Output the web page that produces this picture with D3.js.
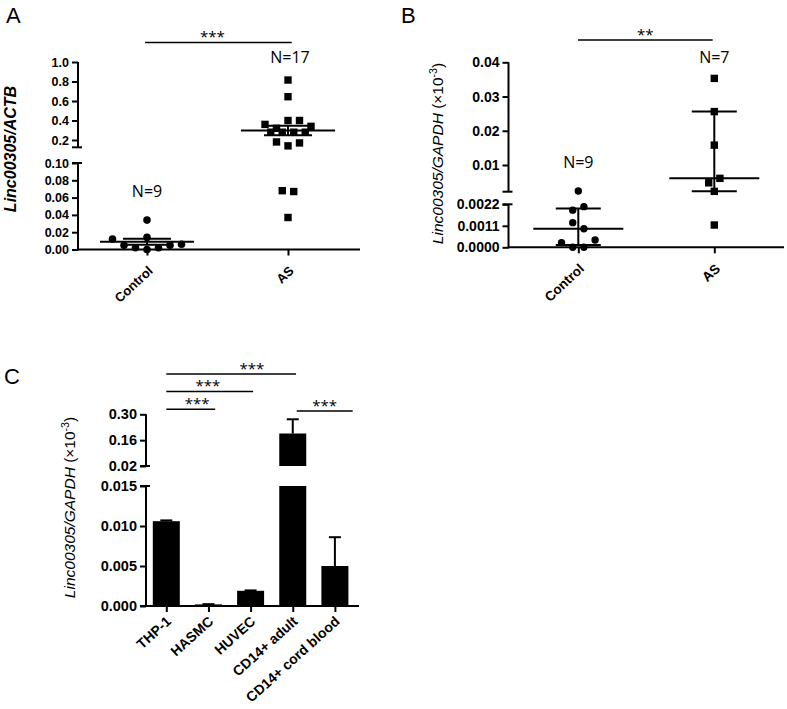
<!DOCTYPE html>
<html><head><meta charset="utf-8">
<script src="https://cdn.jsdelivr.net/npm/d3@7"></script>
<style>
body{margin:0;background:#fff;}
svg{display:block;}
</style></head><body>
<svg id="chart" width="787" height="709"></svg>
<script>
// ---------------- DATA ----------------
const groupsAB = ["Control", "AS"];
// Panel A: Linc00305/ACTB
const controlA = [0.012, 0.005, 0.002, 0.000, 0.002, 0.005, 0.006, 0.014, 0.034];
const asA = [0.815, 0.644, 0.36, 0.32, 0.40, 0.40, 0.34, 0.28, 0.28, 0.28, 0.28, 0.18, 0.14, 0.17, 0.068, 0.067, 0.037];
const ticksA_up = [0.2, 0.4, 0.6, 0.8, 1.0];
const ticksA_low = [0, 0.02, 0.04, 0.06, 0.08, 0.10];
const sigA = "***";
// Panel B: Linc00305/GAPDH (x10^-3)
const controlB = [0.0024, 0.0019, 0.00208, 0.00126, 0.00095, 0.00024, 0.0, 0.0, 0.00037];
const asB = [0.0353, 0.0256, 0.0158, 0.0048, 0.0061, 0.0023, 0.00114];
const ticksB_up = [0.01, 0.02, 0.03, 0.04];
const ticksB_low = [0, 0.0011, 0.0022];
const sigB = "**";
// Panel C: bars
const cellsC = ["THP-1", "HASMC", "HUVEC", "CD14+ adult", "CD14+ cord blood"];
const meanC = [0.0106, 0.0002, 0.0019, 0.196, 0.0050];
const errC = [0.0001, 0.00003, 0.00005, 0.077, 0.0036];
const ticksC_up = [0.02, 0.16, 0.30];
const ticksC_low = [0, 0.005, 0.010, 0.015];
const sigPairsC = [[0, 3], [0, 2], [0, 1], [3, 4]];
const sigLabelsC = ["***", "***", "***", "***"];

// ---------------- HELPERS ----------------
const svg = d3.select("#chart");
const TICKFONT = '"Liberation Sans", Arial, sans-serif';
const NOTEFONT = '"Open Sans", "Noto Sans", sans-serif';
const K = "#000";

function ln(g, x1, y1, x2, y2, w) {
  g.append("line").attr("x1", x1).attr("y1", y1).attr("x2", x2).attr("y2", y2)
    .attr("stroke", K).attr("stroke-width", w || 2);
}
function segAxis(g, scale, ticks, fmt, x, y0, y1, fs, capTop, capBottom) {
  const ax = g.append("g").attr("transform", `translate(${x},0)`)
    .call(d3.axisLeft(scale).tickValues(ticks).tickFormat(fmt).tickSize(6).tickPadding(3));
  ax.select(".domain").remove();
  ax.selectAll(".tick line").attr("stroke", K).attr("stroke-width", 2);
  ax.selectAll(".tick text").style("font-family", TICKFONT).style("font-weight", "bold")
    .style("font-size", fs + "px").attr("fill", K);
  ln(g, x, y0, x, y1, 2);
  if (capTop) ln(g, x - 6, y0, x + 4, y0, 2);
  if (capBottom) ln(g, x - 6, y1, x + 4, y1, 2);
}
function xAxisRot(g, scale, baseY, fs, tx, ty, ang) {
  const gx = g.append("g").attr("transform", `translate(0,${baseY})`)
    .call(d3.axisBottom(scale).tickSize(6));
  gx.select(".domain").remove();
  gx.selectAll(".tick line").attr("stroke", K).attr("stroke-width", 2);
  gx.selectAll(".tick text").attr("y", 0).attr("dy", "0.35em")
    .attr("text-anchor", "end").attr("transform", `translate(${tx},${ty}) rotate(${ang})`)
    .style("font-family", TICKFONT).style("font-weight", "bold").style("font-size", fs + "px").attr("fill", K);
}
// bin-based symmetric spreading of points (GraphPad-like)
function spread(values, yf, baseY, binH, step, cx) {
  const bins = new Map();
  const pos = values.map((v, i) => {
    const y = yf(v);
    const b = Math.floor((baseY - y) / binH);
    if (!bins.has(b)) bins.set(b, []);
    bins.get(b).push(i);
    return { v, y };
  });
  bins.forEach(idx => idx.forEach((i, k) => { pos[i].x = cx + (k - (idx.length - 1) / 2) * step; }));
  return pos;
}
function quantGP(arr, p) {
  const s = arr.slice().sort(d3.ascending), n = s.length;
  const h = (n + 1) * p, lo = Math.floor(h), f = h - lo;
  if (lo < 1) return s[0];
  if (lo >= n) return s[n - 1];
  return s[lo - 1] + f * (s[lo] - s[lo - 1]);
}
function statLines(g, cx, yC, yLo, yHi, wMain, wErr) {
  ln(g, cx, yLo, cx, yHi, 2);
  ln(g, cx - wMain, yC, cx + wMain, yC, 2);
  ln(g, cx - wErr, yLo, cx + wErr, yLo, 2);
  ln(g, cx - wErr, yHi, cx + wErr, yHi, 2);
}
function note(g, x, y, t, fs) {
  g.append("text").attr("x", x).attr("y", y).attr("text-anchor", "middle")
    .style("font-family", NOTEFONT).style("font-size", fs + "px").attr("fill", K).text(t);
}
function letter(x, y, t) {
  svg.append("text").attr("x", x).attr("y", y).style("font-family", TICKFONT)
    .style("font-size", "22px").attr("fill", K).text(t);
}
function yLabelGAPDH(g, x, y, fs) {
  const t = g.append("text").attr("transform", `translate(${x},${y}) rotate(-90)`)
    .attr("text-anchor", "middle").style("font-family", TICKFONT).style("font-size", fs + "px").attr("fill", K);
  t.append("tspan").style("font-style", "italic").text("Linc00305/GAPDH");
  t.append("tspan").text(" (×10");
  t.append("tspan").attr("dy", -6).style("font-size", (fs * 0.68) + "px").text("-3");
  t.append("tspan").attr("dy", 6).text(")");
}

// ---------------- PANEL A ----------------
{
  const g = svg.append("g");
  const axisX = 78, baseY = 249.5;
  const yLow = d3.scaleLinear().domain([0, 0.1]).range([baseY, 163]);
  const yUp = d3.scaleLinear().domain([0.2, 1.0]).range([140, 62]);
  const y = v => v >= 0.1 ? yUp(v) : yLow(v);
  const x = d3.scalePoint().domain(groupsAB).range([147, 288]);

  segAxis(g, yUp, ticksA_up, d3.format(".1f"), axisX, yUp(1.0), yUp(0.125), 12.5, false, true);
  segAxis(g, yLow, ticksA_low, d3.format(".2f"), axisX, yLow(0.1), baseY + 1, 12.5, true, false);
  ln(g, axisX, baseY, 360, baseY, 2);
  xAxisRot(g, x, baseY, 13, 3, 19, -43);

  // stats: mean ± SEM
  [controlA, asA].forEach((arr, i) => {
    const m = d3.mean(arr), se = d3.deviation(arr) / Math.sqrt(arr.length);
    statLines(g, x(groupsAB[i]), y(m), y(m - se), y(m + se), 47, 24);
  });
  spread(controlA, y, baseY, 11, 11.5, x("Control")).forEach(p =>
    g.append("circle").attr("cx", p.x).attr("cy", p.y).attr("r", 3.8).attr("fill", K));
  spread(asA, y, baseY, 11, 11.5, x("AS")).forEach(p =>
    g.append("rect").attr("x", p.x - 3.7).attr("y", p.y - 3.7).attr("width", 7.4).attr("height", 7.4).attr("fill", K));

  note(g, x("Control"), 196.7, "N=" + controlA.length, 16);
  note(g, 290, 63.3, "N=" + asA.length, 16);
  const sx1 = 145, sx2 = 291.7, sy = 42.5;
  ln(g, sx1, sy, sx2, sy, 1.6);
  note(g, sx1 + (sx2 - sx1) * 0.46, sy - 0.5, sigA, 15);

  g.append("text").attr("transform", "translate(16,149) rotate(-90)").attr("text-anchor", "middle")
    .style("font-family", TICKFONT).style("font-weight", "bold").style("font-style", "italic")
    .style("font-size", "16px").attr("fill", K).text("Linc00305/ACTB");
  letter(6, 23, "A");
}

// ---------------- PANEL B ----------------
{
  const g = svg.append("g");
  const axisX = 508.5, baseY = 247.3;
  const yUp = d3.scaleLinear().domain([0.01, 0.04]).range([165, 62.3]);
  const yLow = d3.scaleLinear().domain([0, 0.0022]).range([baseY, 204.3]);
  const y = v => v > 0.0022 ? yUp(v) : yLow(v);
  const x = d3.scalePoint().domain(groupsAB).range([578.3, 714.3]);

  segAxis(g, yUp, ticksB_up, d3.format(".2f"), axisX, yUp(0.04), 191.7, 14, false, true);
  segAxis(g, yLow, ticksB_low, d3.format(".4f"), axisX, yLow(0.0022), baseY + 1, 14, true, false);
  ln(g, axisX, baseY, 784, baseY, 2);
  xAxisRot(g, x, baseY, 13.5, 3, 19, -43);

  // stats: median with interquartile range
  [controlB, asB].forEach((arr, i) => {
    statLines(g, x(groupsAB[i]), y(quantGP(arr, 0.5)), y(quantGP(arr, 0.25)), y(quantGP(arr, 0.75)), 45, 22.5);
  });
  spread(controlB, y, baseY, 14, 11.2, x("Control")).forEach(p =>
    g.append("circle").attr("cx", p.x).attr("cy", p.y).attr("r", 3.7).attr("fill", K));
  spread(asB, y, baseY, 14, 11.2, x("AS")).forEach(p =>
    g.append("rect").attr("x", p.x - 3.7).attr("y", p.y - 3.7).attr("width", 7.4).attr("height", 7.4).attr("fill", K));

  note(g, x("Control"), 168.3, "N=" + controlB.length, 16);
  note(g, x("AS"), 62.7, "N=" + asB.length, 16);
  const sx1 = 578, sx2 = 712.7, sy = 40;
  ln(g, sx1, sy, sx2, sy, 1.6);
  note(g, (sx1 + sx2) / 2, sy - 0.5, sigB, 15);

  yLabelGAPDH(g, 443, 153.5, 15.5);
  letter(401, 23, "B");
}

// ---------------- PANEL C ----------------
{
  const g = svg.append("g");
  const axisX = 146, baseY = 606;
  const yUp = d3.scaleLinear().domain([0.02, 0.30]).range([466, 414.3]);
  const yLow = d3.scaleLinear().domain([0, 0.015]).range([baseY, 486]);
  const y = v => v > 0.015 ? yUp(v) : yLow(v);
  const x = d3.scalePoint().domain(cellsC).range([166.3, 334.9]);
  const bw = 27;

  segAxis(g, yUp, ticksC_up, d3.format(".2f"), axisX, yUp(0.30), yUp(0.02), 14.5, false, true);
  segAxis(g, yLow, ticksC_low, d3.format(".3f"), axisX, yLow(0.015), baseY + 1, 14.5, true, false);

  cellsC.forEach((c, i) => {
    const v = meanC[i], cx = x(c);
    if (v <= 0.015) {
      g.append("rect").attr("x", cx - bw / 2).attr("y", yLow(v)).attr("width", bw).attr("height", baseY - yLow(v)).attr("fill", K);
    } else {
      g.append("rect").attr("x", cx - bw / 2).attr("y", yLow(0.015)).attr("width", bw).attr("height", baseY - yLow(0.015)).attr("fill", K);
      g.append("rect").attr("x", cx - bw / 2).attr("y", yUp(v)).attr("width", bw).attr("height", yUp(0.02) - yUp(v)).attr("fill", K);
    }
    const yt = y(v), ye = y(v + errC[i]);
    ln(g, cx, yt, cx, ye, 2);
    ln(g, cx - 6, ye, cx + 6, ye, 2);
  });
  ln(g, axisX - 6, baseY, 359, baseY, 2);
  xAxisRot(g, x, baseY, 14, 2, 13, -42);

  // significance brackets
  const levelY = [374, 391.5, 409.3, 411];
  const endOff = [[0, 3.3], [0, 2.5], [0, 6.7], [4, 17.8]];
  const txtFrac = [0.66, 0.48, 0.63, 0.5];
  sigPairsC.forEach((pr, i) => {
    const x1 = x(cellsC[pr[0]]) + endOff[i][0], x2 = x(cellsC[pr[1]]) + endOff[i][1];
    ln(g, x1, levelY[i], x2, levelY[i], 1.6);
    note(g, x1 + (x2 - x1) * txtFrac[i], levelY[i] - 0.5, sigLabelsC[i], 15);
  });

  yLabelGAPDH(g, 75, 507.5, 15.5);
  letter(4, 384, "C");
}
</script>
</body></html>
